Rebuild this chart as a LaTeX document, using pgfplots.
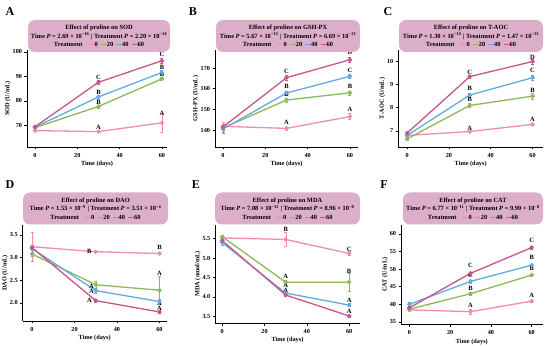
\documentclass[border=0pt]{standalone}
\usepackage{fontspec}
\setmainfont{Liberation Serif}
\usepackage{pgfplots}
\pgfplotsset{compat=1.18}
\definecolor{c0}{HTML}{F28CAA}
\definecolor{c20}{HTML}{8CB95A}
\definecolor{c40}{HTML}{64AAE1}
\definecolor{c60}{HTML}{C8558C}
\definecolor{boxc}{HTML}{DDAECA}
\newcommand{\leg}[1]{\textcolor{#1}{\rule[0.5ex]{6pt}{1.1pt}}}
\newcommand{\hdr}[3]{Effect of proline on #1\\Time \textit{P} = #2 {\textbar} Treatment \textit{P} = #3\\Treatment\hspace{5pt}\leg{c0}\,0\hspace{3pt}\leg{c20}20\hspace{3pt}\leg{c40}40\hspace{3pt}\leg{c60}60}
\pgfplotsset{panel/.style={scale only axis, anchor=south west, clip=false,
  axis x line*=bottom, axis y line*=left, axis line style={-, line width=0.8pt},
  tick style={black, line width=0.6pt}, tick align=outside, major tick length=2.5pt,
  xtick={0,20,40,60},
  ticklabel style={font=\fontsize{6.2}{7}\selectfont\bfseries},
  yticklabel style={xshift=1pt},
  label style={font=\fontsize{6.3}{7}\selectfont\bfseries},
  xlabel={Time (days)},
  xlabel style={yshift=3pt}, ylabel style={yshift=-5pt},
  /pgf/number format/assume math mode=true,
  every axis plot/.append style={line width=1.3pt, mark=*, mark size=1.5pt,
    /pgfplots/error bars/y dir=both, /pgfplots/error bars/y explicit,
    /pgfplots/error bars/error bar style={line width=0.4pt}},
  }}
\tikzset{lt/.style={font=\fontsize{6.5}{7}\selectfont\bfseries, inner sep=0pt}}
\begin{document}
\begin{tikzpicture}
\path[use as bounding box] (0,0) rectangle (550pt,346pt);
% A SOD
\begin{axis}[panel, at={(27pt,199pt)}, width=140pt, height=97pt,
  xmin=-3.8, xmax=62.4, ymin=61.1, ymax=100.8, ytick={70,80,90,100}, ylabel={SOD (U/mL)}]
\addplot[c0] coordinates {(0,67.8)+-(0,0.4) (30,67.4)+-(0,0.4) (60,71)+-(0,4)};
\addplot[c20] coordinates {(0,69)+-(0,0.5) (30,77.7)+-(0,0.6) (60,89)+-(0,0.7)};
\addplot[c40] coordinates {(0,69.2)+-(0,0.5) (30,81.6)+-(0,0.8) (60,91.6)+-(0,0.8)};
\addplot[c60] coordinates {(0,69.4)+-(0,0.6) (30,87.6)+-(0,0.8) (60,96.4)+-(0,1)};
\node[lt] at (axis cs:30,89.6) {C};
\node[lt] at (axis cs:30,83.3) {B};
\node[lt] at (axis cs:30,79.2) {B};
\node[lt] at (axis cs:30,69.3) {A};
\node[lt] at (axis cs:60,99) {C};
\node[lt] at (axis cs:60,93.6) {B};
\node[lt] at (axis cs:60,91) {B};
\node[lt] at (axis cs:60,74.7) {A};
\end{axis}
% B GSH-PX
\begin{axis}[panel, at={(215pt,199pt)}, width=143pt, height=97pt,
  xmin=-3.8, xmax=63.8, ymin=131.8, ymax=178.7, ytick={140,150,160,170}, ylabel={GSH-PX (U/mL)}]
\addplot[c0] coordinates {(0,141.8)+-(0,2) (30,140.8)+-(0,0.8) (60,146.5)+-(0,1.5)};
\addplot[c20] coordinates {(0,141)+-(0,2) (30,154.5)+-(0,0.8) (60,158)+-(0,1)};
\addplot[c40] coordinates {(0,140.5)+-(0,2) (30,157.9)+-(0,1) (60,166)+-(0,1)};
\addplot[c60] coordinates {(0,141.5)+-(0,1.5) (30,165.3)+-(0,1) (60,174)+-(0,1.2)};
\node[lt] at (axis cs:30,168.5) {C};
\node[lt] at (axis cs:30,161) {B};
\node[lt] at (axis cs:30,157) {B};
\node[lt] at (axis cs:30,143.5) {A};
\node[lt] at (axis cs:60,177.5) {D};
\node[lt] at (axis cs:60,169) {C};
\node[lt] at (axis cs:60,161) {B};
\node[lt] at (axis cs:60,150) {A};
\end{axis}
% C T-AOC
\begin{axis}[panel, at={(398.3pt,199pt)}, width=144.7pt, height=97pt,
  xmin=-4.2, xmax=65, ymin=6.3, ymax=10.5, ytick={7,8,9,10}, ylabel={T-AOC (U/mL)}]
\addplot[c0] coordinates {(0,6.8)+-(0,0.05) (30,6.97)+-(0,0.05) (60,7.28)+-(0,0.05)};
\addplot[c20] coordinates {(0,6.65)+-(0,0.05) (30,8.1)+-(0,0.08) (60,8.5)+-(0,0.15)};
\addplot[c40] coordinates {(0,6.8)+-(0,0.08) (30,8.55)+-(0,0.1) (60,9.3)+-(0,0.12)};
\addplot[c60] coordinates {(0,6.9)+-(0,0.08) (30,9.35)+-(0,0.08) (60,10.0)+-(0,0.1)};
\node[lt] at (axis cs:30,9.55) {C};
\node[lt] at (axis cs:30,8.85) {B};
\node[lt] at (axis cs:30,8.35) {B};
\node[lt] at (axis cs:30,7.12) {A};
\node[lt] at (axis cs:60,10.2) {D};
\node[lt] at (axis cs:60,9.6) {C};
\node[lt] at (axis cs:60,8.75) {B};
\node[lt] at (axis cs:60,7.48) {A};
\end{axis}
% D DAO
\begin{axis}[panel, at={(22.7pt,25pt)}, width=144pt, height=96pt,
  xmin=-4.4, xmax=63.4, ymin=1.6, ymax=3.72, ytick={2.0,2.5,3.0,3.5},
  yticklabel style={/pgf/number format/.cd, fixed, fixed zerofill, precision=1}, ylabel={DAO (U/mL)}]
\addplot[c0] coordinates {(0,3.24)+-(0,0.33) (30,3.13)+-(0,0.02) (60,3.09)+-(0,0.02)};
\addplot[c20] coordinates {(0,3.08)+-(0,0.05) (30,2.4)+-(0,0.08) (60,2.28)+-(0,0.3)};
\addplot[c40] coordinates {(0,3.2)+-(0,0.08) (30,2.27)+-(0,0.05) (60,2.03)+-(0,0.05)};
\addplot[c60] coordinates {(0,3.22)+-(0,0.05) (30,2.05)+-(0,0.03) (60,1.8)+-(0,0.03)};
\node[lt] at (axis cs:27,3.13) {B};
\node[lt] at (axis cs:28,2.37) {A};
\node[lt] at (axis cs:28,2.25) {A};
\node[lt] at (axis cs:27,2.05) {A};
\node[lt] at (axis cs:60,3.22) {B};
\node[lt] at (axis cs:60,2.66) {A};
\node[lt] at (axis cs:60,2.0) {A};
\node[lt] at (axis cs:60,1.87) {A};
\end{axis}
% E MDA
\begin{axis}[panel, at={(215.3pt,23pt)}, width=144.4pt, height=98.3pt,
  xmin=-3.3, xmax=65, ymin=3.33, ymax=5.86, ytick={3.5,4.0,4.5,5.0,5.5},
  yticklabel style={/pgf/number format/.cd, fixed, fixed zerofill, precision=1}, ylabel={MDA (nmol/mL)}]
\addplot[c0] coordinates {(0,5.52)+-(0,0.05) (30,5.48)+-(0,0.18) (60,5.12)+-(0,0.05)};
\addplot[c20] coordinates {(0,5.55)+-(0,0.05) (30,4.38)+-(0,0.05) (60,4.38)+-(0,0.22)};
\addplot[c40] coordinates {(0,5.4)+-(0,0.08) (30,4.1)+-(0,0.03) (60,3.79)+-(0,0.04)};
\addplot[c60] coordinates {(0,5.45)+-(0,0.05) (30,4.05)+-(0,0.03) (60,3.51)+-(0,0.03)};
\node[lt] at (axis cs:30,5.74) {B};
\node[lt] at (axis cs:30,4.53) {A};
\node[lt] at (axis cs:30,4.31) {A};
\node[lt] at (axis cs:30,4.16) {A};
\node[lt] at (axis cs:60,5.22) {C};
\node[lt] at (axis cs:60,4.66) {B};
\node[lt] at (axis cs:60,3.9) {A};
\node[lt] at (axis cs:60,3.62) {A};
\end{axis}
% F CAT
\begin{axis}[panel, at={(401pt,21.3pt)}, width=141.7pt, height=100pt,
  xmin=-4.1, xmax=65.4, ymin=34.2, ymax=62.6, ytick={35,40,45,50,55,60}, ylabel={CAT (U/mL)}]
\addplot[c0] coordinates {(0,38.4)+-(0,0.3) (30,37.9)+-(0,0.8) (60,40.9)+-(0,0.3)};
\addplot[c20] coordinates {(0,38.6)+-(0,0.3) (30,43)+-(0,0.3) (60,48.3)+-(0,0.3)};
\addplot[c40] coordinates {(0,40)+-(0,0.5) (30,46.5)+-(0,0.4) (60,51.1)+-(0,0.4)};
\addplot[c60] coordinates {(0,39)+-(0,0.4) (30,48.8)+-(0,0.4) (60,56.1)+-(0,0.5)};
\node[lt] at (axis cs:30,51) {C};
\node[lt] at (axis cs:30,48.2) {C};
\node[lt] at (axis cs:30,44.6) {B};
\node[lt] at (axis cs:30,39.6) {A};
\node[lt] at (axis cs:60,58.2) {C};
\node[lt] at (axis cs:60,53.3) {B};
\node[lt] at (axis cs:60,50.1) {B};
\node[lt] at (axis cs:60,42.5) {A};
\end{axis}
% headers
\tikzset{hbox/.style={fill=boxc, rounded corners=7pt, minimum height=32pt, align=center, inner sep=1pt,
  font=\fontsize{6.4}{8.6}\selectfont\bfseries}}
\node[hbox, minimum width=142pt] at (99pt,310pt) {\hdr{SOD}{2.69 × 10\textsuperscript{−16}}{2.20 × 10\textsuperscript{−14}}};
\node[hbox, minimum width=144pt] at (288pt,310pt) {\hdr{GSH-PX}{5.67 × 10\textsuperscript{−13}}{6.69 × 10\textsuperscript{−13}}};
\node[hbox, minimum width=144pt] at (471pt,310pt) {\hdr{T-AOC}{1.30 × 10\textsuperscript{−14}}{1.47 × 10\textsuperscript{−13}}};
\node[hbox, minimum width=145pt] at (95.5pt,137.5pt) {\hdr{DAO}{1.53 × 10\textsuperscript{−9}}{3.51 × 10\textsuperscript{−4}}};
\node[hbox, minimum width=145pt] at (287.5pt,137.5pt) {\hdr{MDA}{7.08 × 10\textsuperscript{−11}}{8.96 × 10\textsuperscript{−8}}};
\node[hbox, minimum width=140pt] at (473pt,137.5pt) {\hdr{CAT}{6.77 × 10\textsuperscript{−11}}{9.90 × 10\textsuperscript{−8}}};
% panel letters
\tikzset{pl/.style={font=\fontsize{12}{12}\selectfont\bfseries, inner sep=0pt}}
\node[pl] at (10pt,334pt) {A};
\node[pl] at (193pt,334pt) {B};
\node[pl] at (388pt,334pt) {C};
\node[pl] at (10pt,161pt) {D};
\node[pl] at (196pt,161pt) {E};
\node[pl] at (384pt,161pt) {F};
\end{tikzpicture}
\end{document}
